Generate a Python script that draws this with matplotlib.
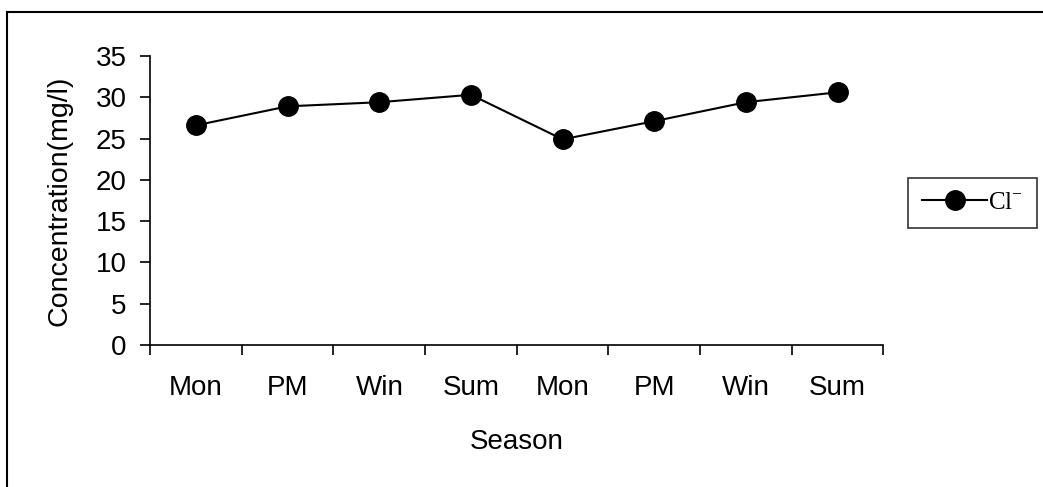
import numpy as np
import matplotlib.pyplot as plt
from matplotlib.patches import Rectangle

seasons = ["Mon", "PM", "Win", "Sum", "Mon", "PM", "Win", "Sum"]
chloride = [26.6, 28.9, 29.4, 30.3, 24.9, 27.1, 29.4, 30.6]

plt.rcParams['font.family'] = ['Liberation Sans', 'DejaVu Sans']
plt.rcParams['mathtext.fontset'] = 'custom'
plt.rcParams['mathtext.rm'] = 'Liberation Serif'

fig = plt.figure(figsize=(10.43, 4.87), dpi=100)
ax = fig.add_axes([0.144, 0.292, 0.703, 0.593])

x = np.arange(len(seasons))
ax.plot(x, chloride, color="black", linewidth=1.5, marker="o",
        markersize=14, markerfacecolor="black", label="Cl$^{-}$")

ax.set_xlim(-0.5, len(seasons) - 0.5)
ax.set_ylim(0, 35)
ax.set_yticks(range(0, 36, 5))
ax.set_xticks(np.arange(-0.5, len(seasons), 1.0))
ax.set_xticklabels([])
ax.set_xticks(x, minor=True)
ax.set_xticklabels(seasons, minor=True)
ax.tick_params(axis="x", which="minor", length=0, pad=22, labelsize=20)
ax.tick_params(axis="x", which="major", direction="out", length=7, width=1.2)
ax.tick_params(axis="y", direction="out", length=7, width=1.2, labelsize=20, pad=10)

for s in ["top", "right"]:
    ax.spines[s].set_visible(False)
for s in ["left", "bottom"]:
    ax.spines[s].set_linewidth(1.2)

ax.set_xlabel("Season", fontsize=20)
ax.set_ylabel("Concentration(mg/l)", fontsize=20.5)
ax.xaxis.set_label_coords(0.5, -0.29)
ax.yaxis.set_label_coords(-0.106, 0.5)

leg = fig.legend(loc="center left", bbox_to_anchor=(0.871, 0.584), frameon=True,
                 fancybox=False, edgecolor="black", handlelength=2.6,
                 handletextpad=0.05, borderpad=0.55, borderaxespad=0,
                 prop={"family": "Liberation Serif", "size": 18})
leg.get_frame().set_linewidth(1.2)

# outer chart border
fig.patches.append(Rectangle((0.007, -0.1), 1.1, 1.075, transform=fig.transFigure,
                             fill=False, edgecolor="black", linewidth=1.5))

fig.savefig("out.png", dpi=100)
